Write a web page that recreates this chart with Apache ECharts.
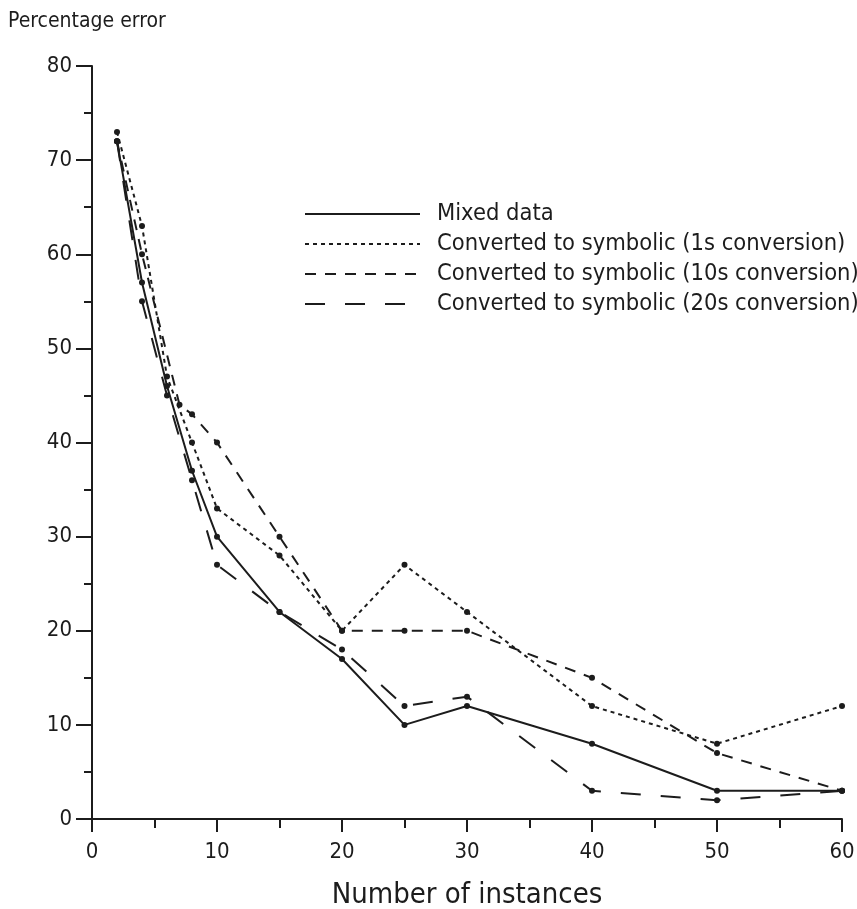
<!DOCTYPE html>
<html>
<head>
<meta charset="utf-8">
<script src="https://cdn.jsdelivr.net/npm/echarts@6/dist/echarts.min.js"></script>
<style>
html,body{margin:0;padding:0;background:#fff;}
#c{width:857px;height:909px;}
</style>
</head>
<body>
<div id="c"></div>
<script>
const seriesNames = [
  'Mixed data',
  'Converted to symbolic (1s conversion)',
  'Converted to symbolic (10s conversion)',
  'Converted to symbolic (20s conversion)'
];
const mixedData = [[2,72],[4,57],[6,46],[8,37],[10,30],[15,22],[20,17],[25,10],[30,12],[40,8],[50,3],[60,3]];
const conv1sData = [[2,73],[4,63],[6,47],[8,40],[10,33],[15,28],[20,20],[25,27],[30,22],[40,12],[50,8],[60,12]];
const conv10sData = [[2,72],[4,60],[7,44],[8,43],[10,40],[15,30],[20,20],[25,20],[30,20],[40,15],[50,7],[60,3]];
const conv20sData = [[2,72],[4,55],[6,45],[8,36],[10,27],[15,22],[20,18],[25,12],[30,13],[40,3],[50,2],[60,3]];
const yAxisTitle = 'Percentage error';
const xAxisTitle = 'Number of instances';

const FONT = "'DejaVu Sans Condensed', 'DejaVu Sans', sans-serif";
const INK = '#1c1c1c';

const chart = echarts.init(document.getElementById('c'), null, {renderer: 'canvas'});

function mkSeries(name, data, type, width) {
  return {
    name: name,
    type: 'line',
    data: data,
    symbol: 'circle',
    symbolSize: 6,
    itemStyle: {color: INK},
    lineStyle: {color: INK, width: width, type: type},
    emphasis: {disabled: true},
    animation: false
  };
}

chart.setOption({
  backgroundColor: '#fff',
  animation: false,
  title: {
    text: yAxisTitle,
    left: 3, top: 6,
    textStyle: {fontFamily: FONT, fontSize: 21, fontWeight: 'normal', color: INK}
  },
  grid: {left: 92, right: 15, top: 66, bottom: 90, containLabel: false, outerBoundsMode: 'none'},
  legend: {
    orient: 'vertical',
    left: 299, top: 197,
    itemWidth: 115, itemHeight: 14,
    itemGap: 6,
    data: seriesNames,
    itemStyle: {opacity: 0},
    textStyle: {fontFamily: FONT, fontSize: 23.5, color: INK, padding: [0,0,0,12]},
    selectedMode: false
  },
  xAxis: {
    type: 'value', min: 0, max: 60, interval: 10,
    name: xAxisTitle, nameLocation: 'middle', nameGap: 62,
    nameTextStyle: {fontFamily: FONT, fontSize: 29, color: INK},
    axisLine: {show: true, onZero: false, lineStyle: {color: INK, width: 2}},
    axisTick: {show: true, length: 13, lineStyle: {color: INK, width: 2}},
    minorTick: {show: true, splitNumber: 2, length: 9, lineStyle: {color: INK, width: 2}},
    splitLine: {show: false},
    axisLabel: {fontFamily: FONT, fontSize: 22, color: INK, margin: 22}
  },
  yAxis: {
    type: 'value', min: 0, max: 80, interval: 10,
    axisLine: {show: true, onZero: false, lineStyle: {color: INK, width: 2}},
    axisTick: {show: true, length: 16, lineStyle: {color: INK, width: 2}},
    minorTick: {show: true, splitNumber: 2, length: 8, lineStyle: {color: INK, width: 2}},
    splitLine: {show: false},
    axisLabel: {fontFamily: FONT, fontSize: 22, color: INK, margin: 20}
  },
  series: [
    mkSeries(seriesNames[0], mixedData, 'solid', 2),
    mkSeries(seriesNames[1], conv1sData, [4, 4], 2),
    mkSeries(seriesNames[2], conv10sData, [11, 9], 2),
    mkSeries(seriesNames[3], conv20sData, [20, 20], 2)
  ]
});
</script>
</body>
</html>
